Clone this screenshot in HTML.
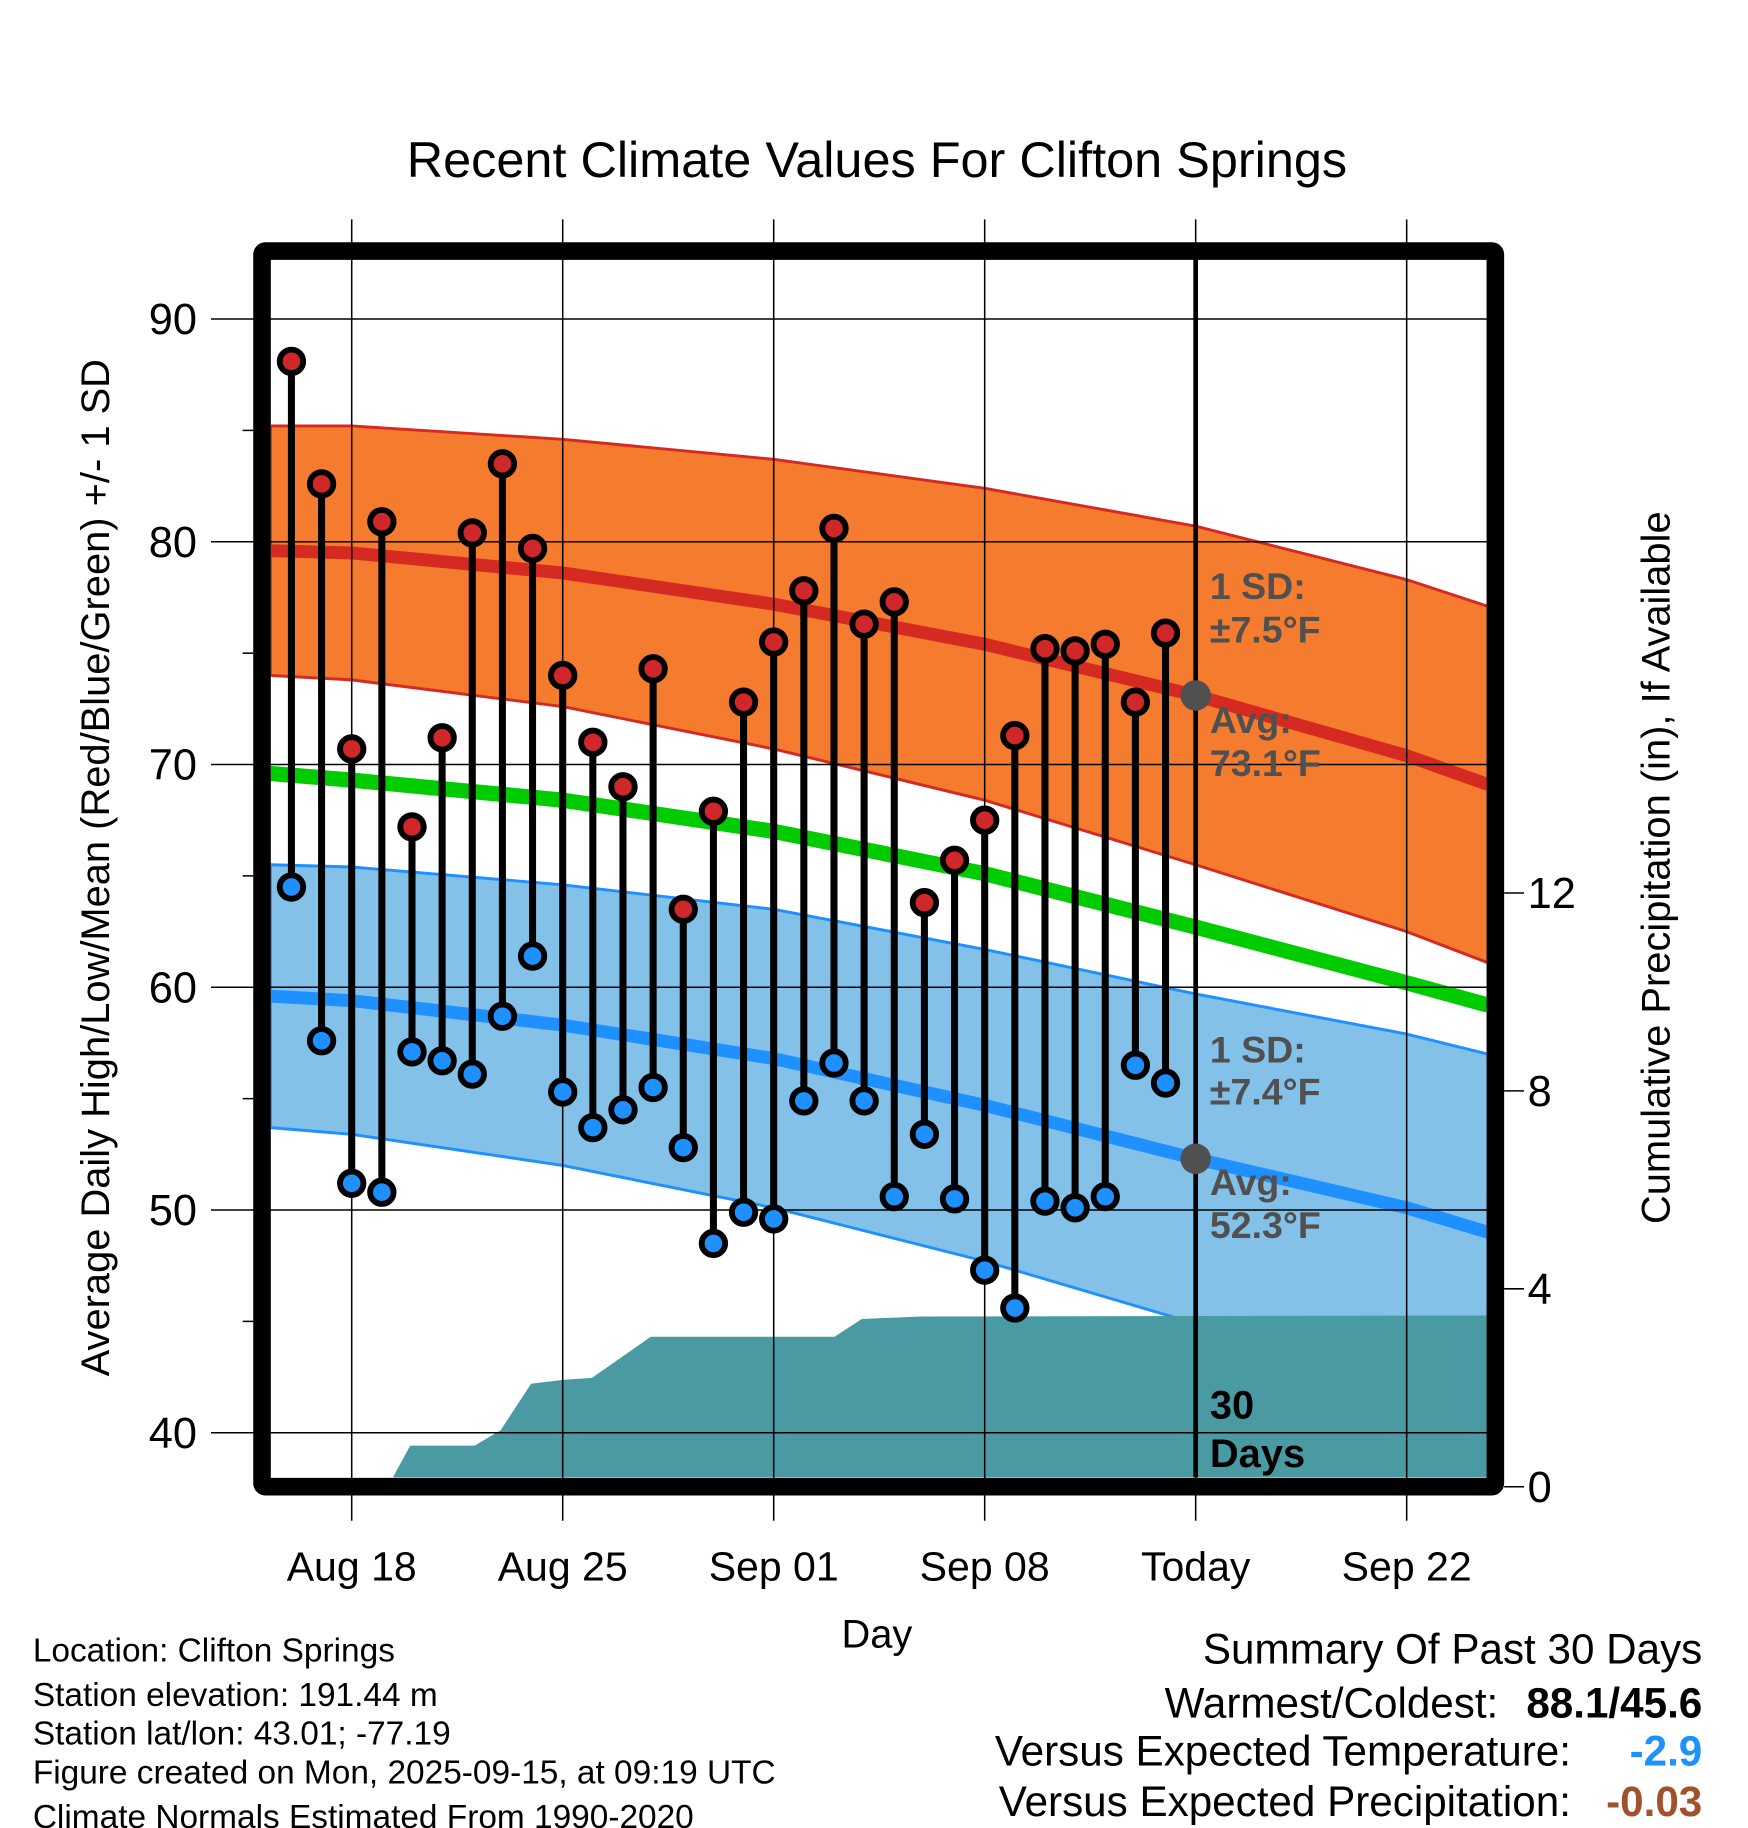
<!DOCTYPE html>
<html><head><meta charset="utf-8"><style>
html,body{margin:0;padding:0;background:#fff;}
svg{display:block;font-family:"Liberation Sans",sans-serif;}
</style></head><body>
<svg id="chart" width="1748" height="1828" viewBox="0 0 1491 1559" xmlns="http://www.w3.org/2000/svg">
<text x="748" y="151" font-size="43" text-anchor="middle">Recent Climate Values For Clifton Springs</text>
<g id="plot"></g>
<text transform="translate(93,740) rotate(-90)" font-size="34" text-anchor="middle">Average Daily High/Low/Mean (Red/Blue/Green) +/- 1 SD</text>
<text transform="translate(1424,740) rotate(-90)" font-size="34" text-anchor="middle">Cumulative Precipitation (in), If Available</text>
<text x="748" y="1405" font-size="34" text-anchor="middle">Day</text>
<g font-size="28.5">
<text x="28" y="1417">Location: Clifton Springs</text>
<text x="28" y="1455">Station elevation: 191.44 m</text>
<text x="28" y="1488">Station lat/lon: 43.01; -77.19</text>
<text x="28" y="1521">Figure created on Mon, 2025-09-15, at 09:19 UTC</text>
<text x="28" y="1559">Climate Normals Estimated From 1990-2020</text>
</g>
<g font-size="36" text-anchor="end">
<text x="1452" y="1419">Summary Of Past 30 Days</text>
<text x="1278" y="1465">Warmest/Coldest:</text>
<text x="1452" y="1465" font-weight="bold">88.1/45.6</text>
<text x="1340" y="1506">Versus Expected Temperature:</text>
<text x="1452" y="1506" font-weight="bold" fill="#1e90ff">-2.9</text>
<text x="1340" y="1549">Versus Expected Precipitation:</text>
<text x="1452" y="1549" font-weight="bold" fill="#a0522d">-0.03</text>
</g>
</svg>
<script>
// days are offsets from Aug 18
const tickLabels = ["Aug 18","Aug 25","Sep 01","Sep 08","Today","Sep 22"];
const tickDays = [0,7,14,21,28,35];
const yTicks = [40,50,60,70,80,90];
const pTicks = [0,4,8,12];
const obsDays = [-2,-1,0,1,2,3,4,5,6,7,8,9,10,11,12,13,14,15,16,17,18,19,20,21,22,23,24,25,26,27];
const highs = [88.1,82.6,70.7,80.9,67.2,71.2,80.4,83.5,79.7,74.0,71.0,69.0,74.3,63.5,67.9,72.8,75.5,77.8,80.6,76.3,77.3,63.8,65.7,67.5,71.3,75.2,75.1,75.4,72.8,75.9];
const lows = [64.5,57.6,51.2,50.8,57.1,56.7,56.1,58.7,61.4,55.3,53.7,54.5,55.5,52.8,48.5,49.9,49.6,54.9,56.6,54.9,50.6,53.4,50.5,47.3,45.6,50.4,50.1,50.6,56.5,55.7];
const normDays = [-2.7,0,7,14,21,28,35,37.7];
const normHigh = [79.6,79.5,78.6,77.2,75.4,73.1,70.4,69.1];
const sdHigh = [5.6,5.7,6.0,6.5,7.0,7.6,7.9,8.0];
const normLow = [59.6,59.4,58.3,56.8,54.7,52.3,50.1,49.0];
const sdLow = [5.9,6.0,6.3,6.7,7.0,7.4,7.8,8.0];
const normMean = [69.6,69.3,68.4,67.0,65.1,62.7,60.2,59.2];
const precipDays = [1.2,1.94,4.08,4.94,5.95,7.0,7.97,9.92,16.02,16.92,18.86,37.7];
const precipVals = [0,0.83,0.83,1.14,2.08,2.16,2.2,3.03,3.03,3.39,3.44,3.46];

const L=231,R=1268,T=221,B=1260;
const X=d=>300+d*25.71;
const Y=v=>1222-(v-40)*19;
const P=v=>1268-v*42.2;
const NS="http://www.w3.org/2000/svg";
const g=document.getElementById('plot');
function mk(t,a,parent){const e=document.createElementNS(NS,t);for(const k in a)e.setAttribute(k,a[k]);(parent||g).appendChild(e);return e;}
const defs=mk('defs',{});
const cp=mk('clipPath',{id:'clip'},defs);mk('rect',{x:L,y:T,width:R-L,height:B-T},cp);
const inner=mk('g',{'clip-path':'url(#clip)'});


function band(mean,sd,fill,stroke,name){
  let up=normDays.map((d,i)=>X(d)+','+Y(mean[i]+sd[i]));
  let dn=normDays.map((d,i)=>X(d)+','+Y(mean[i]-sd[i])).reverse();
  const e=mk('polygon',{points:up.concat(dn).join(' '),fill:fill,stroke:stroke,'stroke-width':2.5},inner);
  
  
}
function line(mean,color,w,name){
  const e=mk('polyline',{points:normDays.map((d,i)=>X(d)+','+Y(mean[i])).join(' '),fill:'none',stroke:color,'stroke-width':w},inner);
  
  
}
band(normHigh,sdHigh,'#f57b2e','#d42a22','high-sd-band');
band(normLow,sdLow,'#84c1e8','#1e90ff','low-sd-band');
line(normHigh,'#d42a22',11,'normal-high-line');
line(normLow,'#1e90ff',11,'normal-low-line');
line(normMean,'#00cc00',13,'normal-mean-line');
let pp=precipDays.map((d,i)=>X(d)+','+P(precipVals[i]));
pp.push(X(precipDays[precipDays.length-1])+','+P(0));
const pa=mk('polygon',{points:pp.join(' '),fill:'#4a9aa3'},inner);


yTicks.forEach(v=>{const e=mk('line',{x1:180,x2:R,y1:Y(v),y2:Y(v),stroke:'#000','stroke-width':1.3});


const t=mk('text',{x:168,y:Y(v)+13,'font-size':37,'text-anchor':'end'});t.textContent=v;

});
[45,55,65,75,85].forEach(v=>{mk('line',{x1:207,x2:216,y1:Y(v),y2:Y(v),stroke:'#000','stroke-width':1.3});});
tickDays.forEach((d,i)=>{const e=mk('line',{x1:X(d),x2:X(d),y1:187,y2:1297,stroke:'#000','stroke-width':1.3});


const t=mk('text',{x:X(d),y:1348,'font-size':35,'text-anchor':'middle'});t.textContent=tickLabels[i];

});
pTicks.forEach(v=>{mk('line',{x1:1283,x2:1300,y1:P(v),y2:P(v),stroke:'#000','stroke-width':1.3});
const t=mk('text',{x:1303,y:P(v)+13,'font-size':37});t.textContent=v;

});
const tl=mk('line',{x1:X(28),x2:X(28),y1:T,y2:B,stroke:'#000','stroke-width':4});


obsDays.forEach((d,i)=>{
  const s=mk('line',{x1:X(d),x2:X(d),y1:Y(highs[i]),y2:Y(lows[i]),stroke:'#000','stroke-width':6});
  
  
  const h=mk('circle',{cx:X(d),cy:Y(highs[i]),r:10,fill:'#d0282a',stroke:'#000','stroke-width':5});
  
  
  const l=mk('circle',{cx:X(d),cy:Y(lows[i]),r:10,fill:'#1e90ff',stroke:'#000','stroke-width':5});
  
  
});
[normHigh[5],normLow[5]].forEach(v=>{const c=mk('circle',{cx:X(28),cy:Y(v),r:13,fill:'#505050'});

});
function ann(txt,y,col,name,fs){const t=mk('text',{x:1032,y:y,'font-size':fs||32,'font-weight':'bold',fill:col});t.textContent=txt;

}
ann('1 SD:',511,'#505050','high-sd-label');ann('±7.5°F',548,'#505050','high-sd-value');
ann('Avg:',625,'#505050','high-avg-label');ann('73.1°F',662,'#505050','high-avg-value');
ann('1 SD:',906,'#505050','low-sd-label');ann('±7.4°F',942,'#505050','low-sd-value');
ann('Avg:',1019,'#505050','low-avg-label');ann('52.3°F',1056,'#505050','low-avg-value');
ann('30',1210,'#000','days-label',34);ann('Days',1251,'#000','days-label-2',34);
const fr=mk('rect',{x:223.5,y:214,width:1052,height:1054,fill:'none',stroke:'#000','stroke-width':15,rx:3});


</script>
</body></html>
